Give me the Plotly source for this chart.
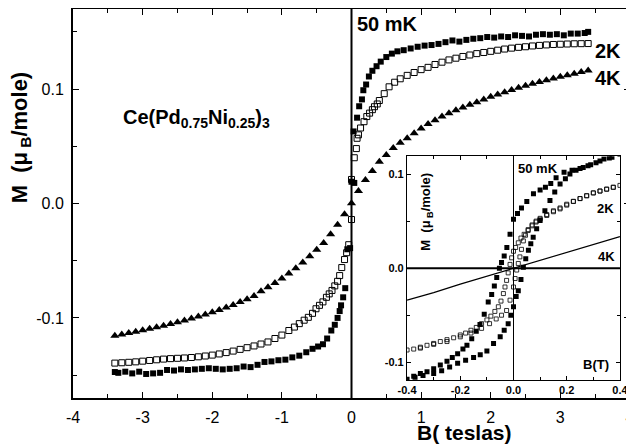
import plotly.graph_objects as go

FONT = "Liberation Sans, Arial, sans-serif"

# ---- main panel: M(B) at three temperatures ----
b_50mk = [-3.40, -3.35, -3.25, -3.15, -3.05, -2.95, -2.85, -2.75, -2.65, -2.55, -2.45, -2.35, -2.25,
          -2.15, -2.05, -1.95, -1.85, -1.75, -1.65, -1.55, -1.45, -1.35, -1.25, -1.15, -1.05, -0.95,
          -0.85, -0.75, -0.65, -0.56, -0.48, -0.41, -0.35, -0.29, -0.24, -0.20, -0.17, -0.15, -0.12,
          -0.09, -0.06, -0.02, 0.00, 0.04, 0.03, 0.08, 0.11, 0.15, 0.17, 0.21, 0.25, 0.30, 0.36, 0.42,
          0.50, 0.58, 0.66, 0.75, 0.85, 0.95, 1.05, 1.15, 1.25, 1.35, 1.45, 1.55, 1.65, 1.75, 1.85,
          1.95, 2.05, 2.15, 2.25, 2.35, 2.45, 2.55, 2.65, 2.75, 2.85, 2.95, 3.05, 3.15, 3.25, 3.35, 3.40]
m_50mk = [-0.1473, -0.148, -0.147, -0.1485, -0.147, -0.149, -0.1485, -0.148, -0.1455, -0.146, -0.145,
          -0.1455, -0.145, -0.1445, -0.144, -0.1445, -0.145, -0.1445, -0.144, -0.1425, -0.143, -0.141,
          -0.1385, -0.138, -0.137, -0.1365, -0.1345, -0.133, -0.130, -0.127, -0.125, -0.123, -0.118,
          -0.111, -0.106, -0.100, -0.094, -0.089, -0.082, -0.074, -0.040, -0.039, 0.019, 0.018, 0.063,
          0.075, 0.085, 0.091, 0.099, 0.104, 0.111, 0.116, 0.120, 0.124, 0.128, 0.131, 0.133, 0.134,
          0.1355, 0.137, 0.138, 0.1385, 0.1395, 0.141, 0.1425, 0.1415, 0.143, 0.144, 0.1445, 0.1455,
          0.145, 0.146, 0.1455, 0.147, 0.1465, 0.146, 0.1475, 0.148, 0.1475, 0.148, 0.147, 0.1485,
          0.1485, 0.149, 0.150]

b_2k = [-3.40, -3.30, -3.20, -3.10, -3.00, -2.90, -2.80, -2.70, -2.60, -2.50, -2.40, -2.30, -2.20,
        -2.10, -2.00, -1.90, -1.80, -1.70, -1.60, -1.50, -1.40, -1.30, -1.20, -1.10, -1.00, -0.90,
        -0.82, -0.75, -0.68, -0.62, -0.56, -0.51, -0.46, -0.41, -0.36, -0.32, -0.28, -0.24, -0.20,
        -0.17, -0.14, -0.10, -0.07, -0.04, 0.00, 0.00, 0.04, 0.07, 0.08, 0.10, 0.13, 0.18, 0.22,
        0.26, 0.30, 0.33, 0.37, 0.40, 0.47, 0.54, 0.62, 0.70, 0.80, 0.90, 1.00, 1.10, 1.20, 1.30,
        1.40, 1.50, 1.60, 1.70, 1.80, 1.90, 2.00, 2.10, 2.20, 2.30, 2.40, 2.50, 2.60, 2.70, 2.80,
        2.90, 3.00, 3.10, 3.20, 3.30, 3.40]
m_2k = [-0.1395, -0.1392, -0.1388, -0.1384, -0.1378, -0.1372, -0.1366, -0.136, -0.1356, -0.1353,
        -0.135, -0.1346, -0.134, -0.1333, -0.1325, -0.1315, -0.1303, -0.129, -0.1275, -0.126,
        -0.1245, -0.1228, -0.121, -0.118, -0.115, -0.111, -0.108, -0.105, -0.102, -0.0995, -0.096,
        -0.092, -0.089, -0.086, -0.082, -0.079, -0.076, -0.072, -0.068, -0.063, -0.056, -0.049,
        -0.043, -0.036, -0.014, 0.021, 0.040, 0.048, 0.057, 0.060, 0.066, 0.0715, 0.076, 0.079,
        0.082, 0.0846, 0.087, 0.090, 0.096, 0.102, 0.106, 0.109, 0.112, 0.1145, 0.117, 0.119,
        0.1215, 0.1235, 0.1255, 0.127, 0.1285, 0.1298, 0.131, 0.132, 0.133, 0.134, 0.135, 0.1358,
        0.1365, 0.137, 0.1377, 0.1382, 0.1386, 0.139, 0.1392, 0.1394, 0.1396, 0.1397, 0.1398]

b_4k = [-3.4, -3.3, -3.2, -3.1, -3.0, -2.9, -2.8, -2.7, -2.6, -2.5, -2.4, -2.3, -2.2, -2.1, -2.0,
        -1.9, -1.8, -1.7, -1.6, -1.5, -1.4, -1.3, -1.2, -1.1, -1.0, -0.9, -0.8, -0.7, -0.6, -0.5,
        -0.4, -0.3, -0.2, -0.1, 0.0, 0.1, 0.2, 0.3, 0.4, 0.5, 0.6, 0.7, 0.8, 0.9, 1.0, 1.1, 1.2,
        1.3, 1.4, 1.5, 1.6, 1.7, 1.8, 1.9, 2.0, 2.1, 2.2, 2.3, 2.4, 2.5, 2.6, 2.7, 2.8, 2.9, 3.0,
        3.1, 3.2, 3.3, 3.4]
m_4k = [-0.1155, -0.1145, -0.1132, -0.1120, -0.1108, -0.1095, -0.1082, -0.1068, -0.1053, -0.1038,
        -0.1022, -0.1005, -0.0988, -0.0970, -0.0951, -0.0931, -0.0910, -0.0887, -0.0862, -0.0836,
        -0.0808, -0.0768, -0.0733, -0.0695, -0.0655, -0.0612, -0.0565, -0.0515, -0.0462, -0.0405,
        -0.0345, -0.0268, -0.0185, -0.0095, 0.0003, 0.0110, 0.0205, 0.0285, 0.0365, 0.0425, 0.0485,
        0.0530, 0.0570, 0.0615, 0.0655, 0.0695, 0.0728, 0.0760, 0.0788, 0.0815, 0.0840, 0.0863,
        0.0886, 0.0910, 0.0932, 0.0952, 0.0972, 0.0992, 0.1012, 0.1030, 0.1046, 0.1062, 0.1077,
        0.1092, 0.1107, 0.1121, 0.1135, 0.1150, 0.1163]

# ---- inset: low-field hysteresis loops ----
bi_50mk = [0.40, 0.37, 0.34, 0.31, 0.28, 0.25, 0.22, 0.19, 0.16, 0.14, 0.12, 0.10, 0.075, 0.05, 0.03,
           0.015, 0.0, -0.013, -0.025, -0.035, -0.045, -0.053, -0.063, -0.072, -0.082, -0.095, -0.11,
           -0.126, -0.14, -0.157, -0.175, -0.19, -0.21, -0.23, -0.25, -0.275, -0.30, -0.325, -0.35,
           -0.375, -0.40,
           -0.37, -0.34, -0.30, -0.27, -0.24, -0.21, -0.18, -0.15, -0.125, -0.10, -0.075, -0.05,
           -0.035, -0.02, -0.01, 0.0, 0.01, 0.018, 0.028, 0.037, 0.046, 0.056, 0.065, 0.074, 0.087,
           0.10, 0.118, 0.137, 0.155, 0.175, 0.195, 0.212, 0.235, 0.262, 0.29, 0.325, 0.36]
mi_50mk = [0.121, 0.118, 0.116, 0.112, 0.109, 0.106, 0.104, 0.102, 0.096, 0.090, 0.086, 0.083, 0.079,
           0.071, 0.064, 0.058, 0.052, 0.036, 0.022, 0.013, 0.006, 0.000, -0.010, -0.019, -0.028,
           -0.036, -0.049, -0.060, -0.067, -0.075, -0.082, -0.086, -0.091, -0.095, -0.099, -0.103,
           -0.107, -0.110, -0.112, -0.115, -0.118,
           -0.116, -0.114, -0.112, -0.109, -0.105, -0.101, -0.098, -0.095, -0.092, -0.088, -0.080,
           -0.073, -0.066, -0.059, -0.050, -0.041, -0.030, -0.024, -0.012, 0.001, 0.010, 0.019,
           0.026, 0.033, 0.042, 0.0506, 0.061, 0.072, 0.081, 0.0895, 0.095, 0.100, 0.104, 0.107,
           0.110, 0.114, 0.117]

bi_2k = [0.400, 0.375, 0.350, 0.325, 0.300, 0.275, 0.250, 0.225, 0.200, 0.175, 0.150, 0.125, 0.100,
         0.085, 0.070, 0.055, 0.040, 0.028, 0.018, 0.008, 0.000, -0.007, -0.013, -0.020, -0.026,
         -0.032, -0.038, -0.047, -0.057, -0.070, -0.085, -0.100, -0.120, -0.140, -0.160, -0.180,
         -0.200, -0.225, -0.250, -0.275, -0.300, -0.325, -0.350, -0.375, -0.400,
         -0.350, -0.300, -0.250, -0.200, -0.160, -0.120, -0.090, -0.065, -0.045, -0.026, -0.013,
         0.000, 0.006, 0.012, 0.018, 0.024, 0.030, 0.037, 0.045, 0.055, 0.070, 0.085, 0.100, 0.125,
         0.150, 0.175, 0.200, 0.225, 0.250, 0.275, 0.300, 0.325, 0.350, 0.375]
mi_2k = [0.088, 0.086, 0.084, 0.082, 0.080, 0.077, 0.074, 0.071, 0.067, 0.063, 0.060, 0.056, 0.052,
         0.049, 0.045, 0.040, 0.036, 0.032, 0.027, 0.022, 0.018, 0.011, 0.004, -0.005, -0.013,
         -0.020, -0.027, -0.035, -0.041, -0.046, -0.051, -0.055, -0.059, -0.063, -0.066, -0.069,
         -0.071, -0.074, -0.076, -0.078, -0.080, -0.082, -0.084, -0.086, -0.087,
         -0.085, -0.081, -0.078, -0.073, -0.069, -0.064, -0.059, -0.054, -0.050, -0.045, -0.034,
         -0.020, -0.011, -0.002, 0.005, 0.012, 0.020, 0.029, 0.035, 0.041, 0.046, 0.050, 0.053,
         0.057, 0.061, 0.064, 0.068, 0.071, 0.074, 0.077, 0.080, 0.082, 0.084, 0.086]

bi_4k = [-0.4, -0.3, -0.2, -0.1, 0.0, 0.1, 0.2, 0.3, 0.4]
mi_4k = [-0.034, -0.026, -0.017, -0.0085, 0.0, 0.0085, 0.017, 0.025, 0.0336]

# tick labels (hyphen minus like the original)
main_xticks = [-4, -3, -2, -1, 0, 1, 2, 3, 4]
main_xtext = ["-4", "-3", "-2", "-1", "0", "1", "2", "3", "4"]
main_yticks = [-0.1, 0.0, 0.1]
main_ytext = ["-0.1", "0.0", "0.1"]
ins_xticks = [-0.4, -0.2, 0.0, 0.2, 0.4]
ins_xtext = ["-0.4", "-0.2", "0.0", "0.2", "0.4"]
ins_yticks = [-0.1, 0.0, 0.1]
ins_ytext = ["-0.1", "0.0", "0.1"]

fig = go.Figure()

fig.add_trace(go.Scatter(x=b_50mk, y=m_50mk, mode="markers", name="50 mK",
                         marker=dict(symbol="square", size=6, color="black")))
fig.add_trace(go.Scatter(x=b_2k, y=m_2k, mode="markers", name="2K",
                         marker=dict(symbol="square-open", size=6, color="black", line=dict(width=1))))
fig.add_trace(go.Scatter(x=b_4k, y=m_4k, mode="markers", name="4K",
                         marker=dict(symbol="triangle-up", size=8, color="black")))

fig.add_trace(go.Scatter(x=bi_50mk, y=mi_50mk, mode="markers", xaxis="x2", yaxis="y2",
                         marker=dict(symbol="square", size=5, color="black")))
fig.add_trace(go.Scatter(x=bi_2k, y=mi_2k, mode="markers", xaxis="x2", yaxis="y2",
                         marker=dict(symbol="square-open", size=4, color="black", line=dict(width=0.8))))
fig.add_trace(go.Scatter(x=bi_4k, y=mi_4k, mode="lines", xaxis="x2", yaxis="y2",
                         line=dict(color="black", width=1.2)))

main_axis = dict(showline=True, linecolor="black", linewidth=2, mirror="ticks", automargin=False,
                 ticks="inside", ticklen=6, tickwidth=1.2, tickcolor="black",
                 showgrid=False, zeroline=False, ticklabeloverflow="allow", ticklabelstandoff=4,
                 tickfont=dict(family=FONT, size=16, color="black"))
ins_axis = dict(showline=True, linecolor="black", linewidth=1.2, mirror="ticks", automargin=False,
                ticks="inside", ticklen=4, tickwidth=1, tickcolor="black",
                showgrid=False, zeroline=False, ticklabeloverflow="allow",
                tickfont=dict(family=FONT, size=11, color="black", weight="bold"))

# the page adds an 8 px body margin: margins are shifted so the plot area lands where the original has it
fig.update_layout(
    width=634, height=446,
    margin=dict(l=65, r=12, t=1, b=56),
    paper_bgcolor="white", plot_bgcolor="white",
    showlegend=False,
    xaxis=dict(main_axis, range=[-4.001, 4.001], tickmode="array", tickvals=main_xticks, ticktext=main_xtext,
               minor=dict(ticks="inside", ticklen=4, dtick=0.5, tick0=0, tickcolor="black"),
               domain=[0, 1], anchor="y"),
    yaxis=dict(main_axis, range=[-0.17, 0.17], tickmode="array", tickvals=main_yticks, ticktext=main_ytext,
               minor=dict(ticks="inside", ticklen=4, dtick=0.05, tick0=0, tickcolor="black"),
               domain=[0, 1], anchor="x"),
    xaxis2=dict(ins_axis, range=[-0.4001, 0.4001], tickmode="array", tickvals=ins_xticks, ticktext=ins_xtext,
                minor=dict(ticks="inside", ticklen=3, dtick=0.1, tick0=0, tickcolor="black"),
                domain=[0.5997, 0.982], anchor="y2"),
    yaxis2=dict(ins_axis, range=[-0.119, 0.119], tickmode="array", tickvals=ins_yticks, ticktext=ins_ytext,
                minor=dict(ticks="inside", ticklen=3, dtick=0.05, tick0=0, tickcolor="black"),
                domain=[0.046, 0.6215], anchor="x2"),
)

# B = 0 line in the main panel, axes lines in the inset
fig.add_shape(type="line", xref="x", yref="y domain", x0=0, x1=0, y0=0, y1=1,
              line=dict(color="black", width=2), layer="above")
fig.add_shape(type="line", xref="x2", yref="y2 domain", x0=0, x1=0, y0=0, y1=1,
              line=dict(color="black", width=1), layer="above")
fig.add_shape(type="line", xref="x2 domain", yref="y2", x0=0, x1=1, y0=0, y1=0,
              line=dict(color="black", width=2), layer="above")

bold = dict(family=FONT, color="black", weight="bold")
m_label = "M\u00a0\u00a0(μ<sub>\u00a0B</sub>/mole)"
notes = [
    dict(x=-2.23, y=0.074, xref="x", yref="y", text="Ce(Pd<sub>0.75</sub>Ni<sub>0.25</sub>)<sub>3</sub>",
         font=dict(bold, size=20)),
    dict(x=0.52, y=0.157, xref="x", yref="y", text="50 mK", font=dict(bold, size=20)),
    dict(x=3.68, y=0.133, xref="x", yref="y", text="2K", font=dict(bold, size=20)),
    dict(x=3.69, y=0.110, xref="x", yref="y", text="4K", font=dict(bold, size=20)),
    dict(x=0.092, y=0.106, xref="x2", yref="y2", text="50 mK", font=dict(bold, size=13)),
    dict(x=0.347, y=0.063, xref="x2", yref="y2", text="2K", font=dict(bold, size=13)),
    dict(x=0.351, y=0.012, xref="x2", yref="y2", text="4K", font=dict(bold, size=13)),
    dict(x=0.31, y=-0.102, xref="x2", yref="y2", text="B(T)", font=dict(bold, size=13)),
    dict(x=-0.325, y=0.060, xref="x2", yref="y2", text=m_label, textangle=-90,
         font=dict(bold, size=13)),
    dict(x=-0.0934, y=0.67, xref="paper", yref="paper", text=m_label, textangle=-90,
         font=dict(bold, size=22)),
    dict(x=0.702, y=-0.088, xref="paper", yref="paper", text="B( teslas)", font=dict(bold, size=21)),
]
for a in notes:
    fig.add_annotation(showarrow=False, xanchor="center", yanchor="middle", **a)

fig.write_html("out.html")
